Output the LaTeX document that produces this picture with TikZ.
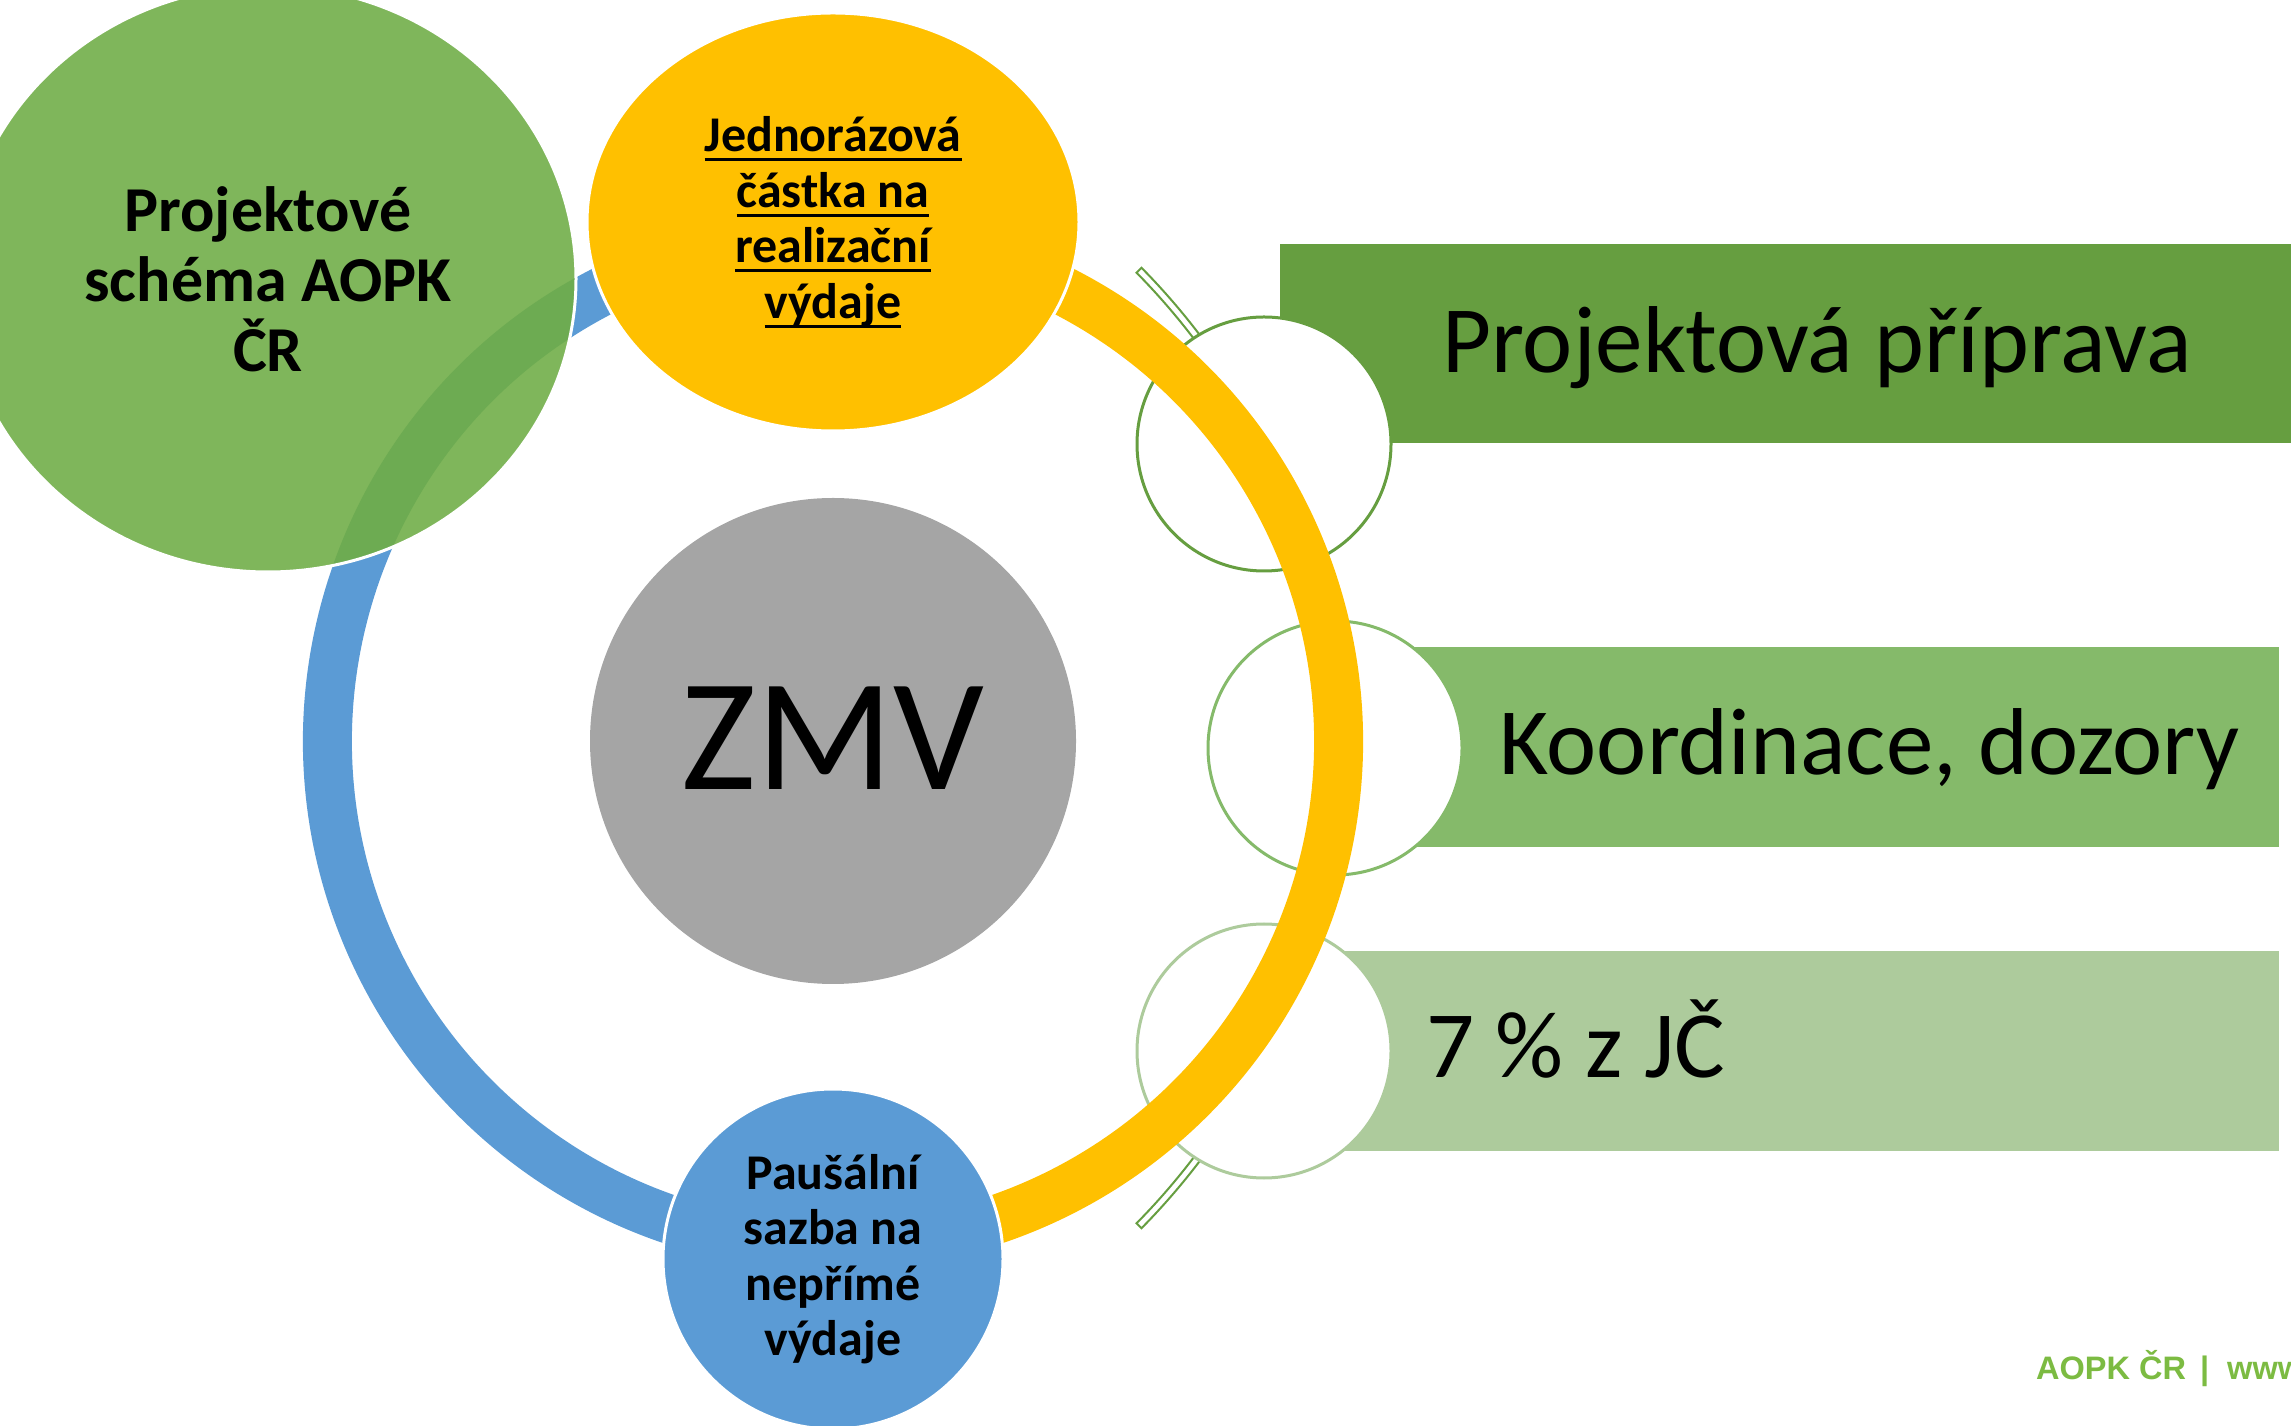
\documentclass[tikz,border=0pt]{standalone}
\usepackage{fontspec}
\setmainfont{Carlito}
\newfontfamily\footfont{Liberation Sans}
\usetikzlibrary{shapes.geometric}
\definecolor{cgreen}{HTML}{7FB65B}
\definecolor{cband}{HTML}{6DAB52}
\definecolor{cyellow}{HTML}{FFC000}
\definecolor{cblue}{HTML}{5B9BD5}
\definecolor{cgray}{HTML}{A5A5A5}
\definecolor{rone}{HTML}{669E40}
\definecolor{rtwo}{HTML}{85BA6A}
\definecolor{rthree}{HTML}{ADCB9C}
\definecolor{cfoot}{HTML}{7CBB42}
\newcommand\myul[1]{\setbox0\hbox{#1}\rlap{\rule[-9.5pt]{\wd0}{3pt}}\box0}
\tikzset{
  bar/.style={fill=#1},
  smallcirc/.style={circle, draw=#1, line width=3, fill=white, minimum size=254, inner sep=0},
  ringarc/.style={line width=49, #1},
  bigshape/.style={fill=#1, draw=white, line width=3, inner sep=0, align=center},
  righttext/.style={anchor=base west, inner sep=0, font=\fontsize{95}{114}\selectfont},
}
\begin{document}
\begin{tikzpicture}[x=1pt,y=1pt]
\useasboundingbox (0,0) rectangle (2291,1425);
\clip (0,0) rectangle (2291,1425);
% coloured bars
\fill[bar=rone] (1280,982) rectangle (2291,1181);
\fill[bar=rtwo] (1340,578) rectangle (2279,778);
\fill[bar=rthree] (1280,274) rectangle (2279,474);
% thin double arc
\coordinate (ac) at (654.5,677);
\filldraw[draw=rone, fill=white, line width=2]
  ([shift={(44.6:684)}]ac) arc[start angle=44.6, end angle=-44.6, radius=684]
  -- ([shift={(-44.6:677)}]ac) arc[start angle=-44.6, end angle=44.6, radius=677] -- cycle;
% small circles
\node[smallcirc=rone] (s1) at (1264,981) {};
\node[smallcirc=rtwo] (s2) at (1335,677) {};
\node[smallcirc=rthree] (s3) at (1264,374) {};
% texts in bars
\node[righttext] (t1) at (1442,1052) {Projektová příprava};
\node[righttext] (t2) at (1499,650) {Koordinace, dozory};
\node[righttext] (t3) at (1426,347) {7 \% z JČ};
% ring
\coordinate (rc) at (833,684);
\draw[ringarc=cyellow] ([shift={(63:505.5)}]rc) arc[start angle=63, end angle=-72, radius=505.5];
\draw[ringarc=cblue] ([shift={(116:505.5)}]rc) arc[start angle=116, end angle=252, radius=505.5];
% centre
\node[circle, fill=cgray, minimum size=486, inner sep=0, font=\fontsize{160}{190}\selectfont] (zmv) at (rc) {\raisebox{5pt}{ZMV}};
% yellow
\node[bigshape=cyellow, ellipse, minimum width=492, minimum height=418, font=\bfseries\fontsize{50}{55.5}\selectfont] (yel) at (833,1203)
  {\myul{Jednorázová}\\\myul{částka na}\\\myul{realizační}\\\myul{výdaje}};
% blue
\node[bigshape=cblue, circle, minimum size=340, font=\bfseries\fontsize{50}{55.5}\selectfont] (blu) at (833,166)
  {Paušální\\sazba na\\nepřímé\\výdaje};
% green
\node[bigshape=cgreen, ellipse, minimum width=616, minimum height=586, font=\bfseries\fontsize{64}{70}\selectfont,
  path picture={\draw[ringarc=cband] ([shift={(116:505.5)}]rc) arc[start angle=116, end angle=252, radius=505.5];}] (grn) at (268,1146)
  {Projektové\\schéma AOPK\\ČR};
% footer
\node[anchor=base west, inner sep=0, text=cfoot, font=\footfont\bfseries\fontsize{32.5}{40}\selectfont] (foot) at (2036,46)
  {AOPK ČR\hspace{5pt} |\hspace{9pt} www};
\end{tikzpicture}
\end{document}
